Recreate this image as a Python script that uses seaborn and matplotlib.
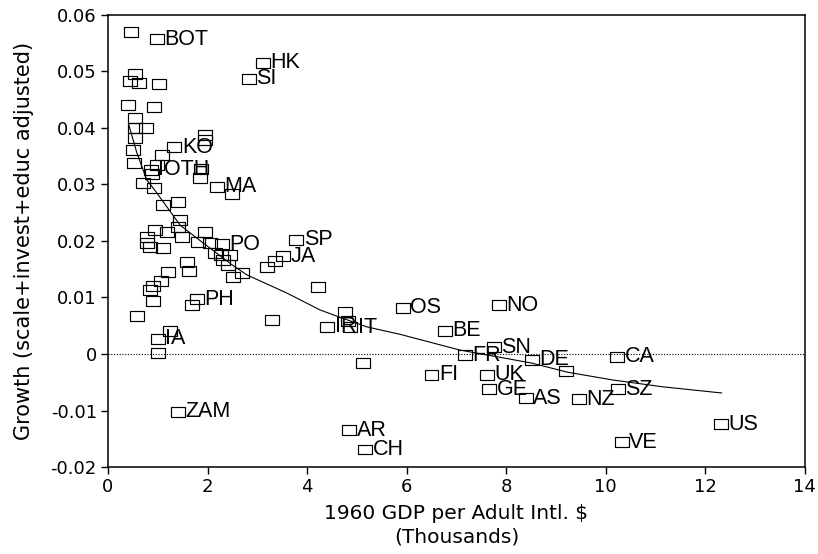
import matplotlib
matplotlib.use("Agg")
import matplotlib.pyplot as plt
import seaborn as sns
import pandas as pd

# 1960 GDP per adult (thousands) and adjusted growth
gdp = [0.46, 0.98, 3.11, 2.83, 0.54, 0.44, 0.62, 1.02, 0.40, 0.92,
       0.54, 0.54, 0.76, 0.54, 1.95, 1.95, 1.33, 0.50, 1.08, 0.52,
       0.98, 0.86, 0.88, 1.87, 1.85, 0.70, 0.92, 2.19, 2.49, 1.10,
       1.41, 1.45, 1.41, 0.94, 1.18, 1.49, 0.78, 0.78, 0.84, 1.10,
       1.95, 1.81, 2.05, 2.29, 2.15, 2.27, 2.45, 2.31, 2.41, 1.59,
       1.63, 1.20, 1.06, 0.90, 0.84, 0.90, 0.58, 1.79, 1.69, 2.51,
       2.69, 3.19, 3.35, 3.51, 3.78, 4.22, 4.76, 4.82, 4.40, 4.86,
       3.29, 1.00, 1.24, 1.00, 1.41, 4.84, 5.16, 5.12, 5.92, 7.85,
       6.77, 7.17, 7.75, 8.51, 9.20, 6.50, 7.61, 7.65, 8.39, 9.46,
       10.22, 10.24, 12.31, 10.32]
growth = [0.0570, 0.0557, 0.0515, 0.0487, 0.0496, 0.0483, 0.0480, 0.0478, 0.0441, 0.0437,
          0.0418, 0.0400, 0.0400, 0.0382, 0.0388, 0.0378, 0.0366, 0.0361, 0.0352, 0.0338,
          0.0334, 0.0326, 0.0318, 0.0328, 0.0311, 0.0303, 0.0294, 0.0296, 0.0283, 0.0264,
          0.0269, 0.0237, 0.0225, 0.0219, 0.0216, 0.0207, 0.0207, 0.0196, 0.0190, 0.0188,
          0.0216, 0.0198, 0.0196, 0.0194, 0.0179, 0.0175, 0.0175, 0.0166, 0.0158, 0.0163,
          0.0147, 0.0145, 0.0129, 0.0120, 0.0113, 0.0094, 0.0067, 0.0097, 0.0087, 0.0136,
          0.0143, 0.0154, 0.0165, 0.0173, 0.0202, 0.0119, 0.0074, 0.0058, 0.0048, 0.0047,
          0.0060, 0.0027, 0.0041, 0.0002, -0.0102, -0.0135, -0.0169, -0.0016, 0.0082, 0.0086,
          0.0041, -0.0002, 0.0012, -0.0010, -0.0030, -0.0037, -0.0037, -0.0062, -0.0078, -0.0080,
          -0.0005, -0.0062, -0.0124, -0.0156]
country = ["", "BOT", "HK", "SI", "", "", "", "", "", "",
           "", "", "", "", "", "", "KO", "", "", "",
           "", "IOTH", "", "", "", "", "", "MA", "", "",
           "", "", "", "", "", "", "", "", "", "",
           "", "", "", "PO", "", "", "", "", "", "",
           "", "", "", "", "", "", "", "PH", "", "",
           "", "", "", "JA", "SP", "", "", "", "IR", "IT",
           "", "IA", "", "", "ZAM", "AR", "CH", "", "OS", "NO",
           "BE", "FR", "SN", "DE", "", "FI", "UK", "GE", "AS", "NZ",
           "CA", "SZ", "US", "VE"]

# fitted curve
curve_x = [0.42, 0.58, 0.78, 0.94, 1.45, 1.89, 2.49, 2.79, 3.59, 4.26,
           4.66, 5.20, 5.86, 7.07, 8.51, 9.22, 10.14, 11.14, 12.33]
curve_y = [0.0405, 0.0356, 0.0308, 0.0290, 0.0228, 0.0198, 0.0158, 0.0140, 0.0108, 0.0078,
           0.0065, 0.0048, 0.0035, 0.0007, -0.0016, -0.0032, -0.0046, -0.0058, -0.0069]

df = pd.DataFrame({"gdp": gdp, "growth": growth, "country": country})

sns.set_style("ticks")
plt.rcParams["font.family"] = ["DejaVu Sans"]
plt.rcParams.update({"text.color": "black", "axes.labelcolor": "black",
                     "xtick.color": "black", "ytick.color": "black"})

fig = plt.figure(figsize=(8.18, 5.54), dpi=100)
ax = fig.add_axes([0.132, 0.157, 0.852, 0.816])

box = [(-1.4, -1), (1.4, -1), (1.4, 1), (-1.4, 1), (-1.4, -1)]
sns.scatterplot(data=df, x="gdp", y="growth", marker=box, s=100,
                facecolors="none", edgecolors="black", linewidth=0.85, ax=ax)
sns.lineplot(x=curve_x, y=curve_y, color="black", linewidth=0.8, ax=ax)
ax.axhline(0, color="black", linewidth=0.8, linestyle=(0, (1, 1.5)))

for _, r in df[df["country"] != ""].iterrows():
    ax.annotate(r["country"], (r["gdp"], r["growth"]), xytext=(5.5, 0),
                textcoords="offset points", ha="left", va="center",
                fontsize=15.5, color="black", family=["Liberation Sans", "DejaVu Sans"])

ax.set_xlim(0, 14)
ax.set_ylim(-0.02, 0.06)
ax.set_xticks(range(0, 15, 2))
yt = [-0.02, -0.01, 0, 0.01, 0.02, 0.03, 0.04, 0.05, 0.06]
ax.set_yticks(yt)
ax.set_yticklabels(["-0.02", "-0.01", "0", "0.01", "0.02", "0.03", "0.04", "0.05", "0.06"])
ax.tick_params(labelsize=13, length=5, width=1, direction="out", color="black",
               labelcolor="black", pad=3)
for sp in ax.spines.values():
    sp.set_visible(True)
    sp.set_linewidth(1.1)
    sp.set_color("black")
ax.set_xlabel("1960 GDP per Adult Intl. $\n(Thousands)", fontsize=14.5, linespacing=1.25, labelpad=6)
ax.set_ylabel("Growth (scale+invest+educ adjusted)", fontsize=15, labelpad=12)

fig.savefig("out.png", dpi=100)
